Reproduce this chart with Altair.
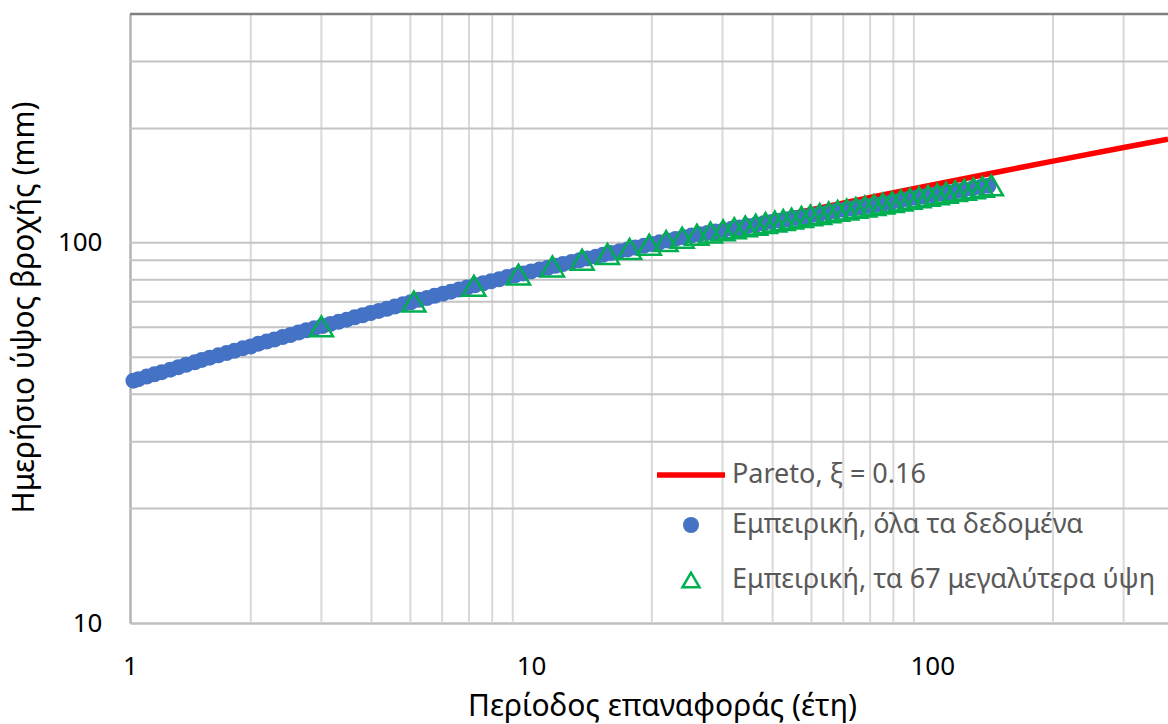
import altair as alt
import pandas as pd

# Fitted Pareto curve: return period (years) -> daily rainfall depth (mm)
pareto_T = [1, 1.5, 2, 3, 5, 7, 10, 15, 20, 30, 50, 70, 100, 150, 200, 300, 387]
pareto_h = [44.0, 50.0, 54.6, 61.3, 70.4, 76.9, 84.1, 92.8, 99.4, 109.1, 122.3,
            131.6, 142.0, 154.6, 164.1, 178.2, 187.5]

# Empirical return periods, complete record
all_T = [1.02, 1.05, 1.10, 1.15, 1.20, 1.26, 1.32, 1.38, 1.45, 1.51,
         1.58, 1.66, 1.74, 1.82, 1.91, 2.00, 2.09, 2.19, 2.29, 2.40,
         2.51, 2.63, 2.75, 2.88, 3.02, 3.16, 3.31, 3.47, 3.63, 3.80,
         3.98, 4.17, 4.37, 4.57, 4.79, 5.01, 5.25, 5.50, 5.75, 6.03,
         6.31, 6.61, 6.92, 7.24, 7.59, 7.94, 8.32, 8.71, 9.12, 9.55,
         10.0, 10.5, 11.0, 11.5, 12.0, 12.6, 13.2, 13.8, 14.5, 15.1,
         15.8, 16.6, 17.4, 18.2, 19.1, 20.0, 20.9, 21.9, 22.9, 24.0,
         25.1, 26.3, 27.5, 28.8, 30.2, 31.6, 33.1, 34.7, 36.3, 38.0,
         39.8, 41.7, 43.7, 45.7, 47.9, 50.1, 52.5, 55.0, 57.5, 60.3,
         63.1, 66.1, 69.2, 72.4, 75.9, 79.4, 83.2, 87.1, 91.2, 95.5,
         100, 105, 110, 115, 120, 126, 132, 138]
all_h = [43.4, 43.8, 44.5, 45.1, 45.7, 46.4, 47.1, 47.8, 48.5, 49.2,
         49.9, 50.6, 51.3, 52.0, 52.8, 53.4, 54.3, 55.0, 55.7, 56.5,
         57.2, 58.1, 58.9, 59.6, 60.4, 61.2, 62.0, 62.8, 63.7, 64.5,
         65.4, 66.2, 67.1, 68.0, 68.9, 69.8, 70.8, 71.6, 72.6, 73.5,
         74.4, 75.4, 76.3, 77.3, 78.3, 79.2, 80.2, 81.3, 82.2, 83.1,
         84.1, 85.1, 86.0, 87.0, 88.0, 89.0, 90.0, 91.0, 92.0, 93.0,
         94.0, 95.1, 96.1, 97.2, 98.2, 99.3, 100.3, 101.4, 102.4, 103.5,
         104.5, 105.4, 106.2, 107.1, 108.0, 108.9, 109.8, 110.7, 111.6, 112.6,
         113.5, 114.4, 115.3, 116.3, 117.2, 118.3, 119.2, 120.2, 121.2, 122.1,
         123.1, 124.1, 125.1, 126.1, 127.1, 128.1, 129.2, 130.4, 131.4, 132.5,
         133.5, 134.7, 135.8, 136.9, 138.0, 139.1, 140.2, 141.3]

# Empirical return periods of the largest depths
top_T = [3.0, 5.1, 7.2, 9.3, 11.3, 13.4, 15.5, 17.6, 19.7, 21.7,
         23.8, 25.9, 28.0, 30.1, 32.1, 34.2, 36.3, 38.4, 40.5, 42.5,
         44.6, 47.2, 49.7, 52.4, 55.2, 58.1, 61.2, 64.5, 67.9, 71.5,
         75.3, 79.4, 83.5, 88.0, 92.7, 97.6, 102.9, 108.3, 114.1, 120.2,
         126.6, 133.3, 140.4]
top_h = [60.3, 70.1, 77.1, 82.5, 86.7, 90.3, 93.5, 96.4, 98.9, 101.1,
         103.2, 105.0, 106.5, 107.9, 109.3, 110.5, 111.6, 112.8, 113.8, 114.8,
         115.8, 117.0, 118.1, 119.1, 120.3, 121.4, 122.4, 123.6, 124.7, 125.8,
         126.9, 128.1, 129.3, 130.6, 131.8, 133.0, 134.2, 135.5, 136.8, 138.0,
         139.2, 140.4, 141.7]

series_names = ["Pareto, ξ = 0.16",
                "Εμπειρική, όλα τα δεδομένα",
                "Εμπειρική, τα 67 μεγαλύτερα ύψη"]
series_colors = ["#ff0000", "#4472c4", "#00b050"]

x_grid = [2, 3, 4, 5, 6, 7, 8, 9, 20, 30, 40, 50, 60, 70, 80, 90, 200, 300]
y_grid = [20, 30, 40, 50, 60, 70, 80, 90, 100, 200, 300]
y_top = [400]
x_ticks = [1, 10, 100]
y_ticks = [10, 100]

FONT = "Noto Sans"
X_DOMAIN = [1, 387]
Y_DOMAIN = [10, 400]


def xenc(field):
    return alt.X(
        f"{field}:Q",
        scale=alt.Scale(type="log", domain=X_DOMAIN, nice=False),
        axis=alt.Axis(
            values=x_ticks, format="d", grid=False, ticks=False, tickSize=0,
            labelFlush=False, labelOverlap=False, labelPadding=30,
            labelFont=FONT, labelFontSize=26, labelColor="#000000",
            domainColor="#bfbfbf", domainWidth=2.5,
            title="Περίοδος επαναφοράς (έτη)", titleFont=FONT,
            titleFontSize=30, titleFontWeight="normal", titleColor="#000000",
            titleX=532, titleY=92, titleAlign="center",
            titleBaseline="alphabetic",
        ),
    )


def yenc(field):
    return alt.Y(
        f"{field}:Q",
        scale=alt.Scale(type="log", domain=Y_DOMAIN, nice=False),
        axis=alt.Axis(
            values=y_ticks, format="d", grid=False, ticks=False, tickSize=0,
            labelFlush=False, labelOverlap=False, labelPadding=28,
            labelFont=FONT, labelFontSize=26, labelColor="#000000",
            domainColor="#b3b3b3", domainWidth=2.5,
            title="Ημερήσιο ύψος βροχής (mm)", titleFont=FONT,
            titleFontSize=30, titleFontWeight="normal", titleColor="#000000",
            titleX=-97, titleY=293, titleAlign="center",
            titleBaseline="alphabetic", titleAngle=270,
        ),
    )


def legend(x, y, **kw):
    return alt.Legend(
        title=None, orient="none", legendX=x, legendY=y, padding=0,
        labelFont=FONT, labelFontSize=27, labelColor="#595959",
        labelLimit=700, symbolOffset=0, symbolOpacity=1, **kw,
    )


def series_color(i, leg):
    return alt.Color(
        "series:N",
        scale=alt.Scale(domain=[series_names[i]], range=[series_colors[i]]),
        legend=leg,
    )


df_pareto = pd.DataFrame({"T": pareto_T, "h": pareto_h, "series": series_names[0]})
df_all = pd.DataFrame({"T": all_T, "h": all_h, "series": series_names[1]})
df_top = pd.DataFrame({"T": top_T, "h": top_h, "series": series_names[2]})

vgrid = alt.Chart(pd.DataFrame({"gx": x_grid})).mark_rule(
    color="#d9d9d9", strokeWidth=2
).encode(x=xenc("gx"))

hgrid = alt.Chart(pd.DataFrame({"gy": y_grid})).mark_rule(
    color="#c4c4c4", strokeWidth=2
).encode(y=yenc("gy"))

top_line = alt.Chart(pd.DataFrame({"gy": y_top})).mark_rule(
    color="#7f7f7f", strokeWidth=2.5
).encode(y=yenc("gy"))

pareto = alt.Chart(df_pareto).mark_line(strokeWidth=5.5, color=series_colors[0]).encode(
    x=xenc("T"), y=yenc("h"),
    color=series_color(0, legend(524, 424, symbolType="stroke", symbolSize=4624,
                                 symbolStrokeWidth=5.5, labelOffset=4)),
)

all_pts = alt.Chart(df_all).mark_circle(size=256, opacity=1).encode(
    x=xenc("T"), y=yenc("h"),
    color=series_color(1, legend(547.5, 497.5, symbolType="circle", symbolSize=256,
                                 labelOffset=27.5)),
)

top_pts = alt.Chart(df_top).mark_point(
    shape="triangle-up", filled=False, size=530, strokeWidth=2.5, opacity=1
).encode(
    x=xenc("T"), y=yenc("h"),
    color=series_color(2, legend(547.5, 552.5, symbolType="triangle-up", symbolSize=289,
                                 symbolStrokeWidth=2.5, labelOffset=27.5)),
)

chart = (
    alt.layer(vgrid, hgrid, top_line, pareto, all_pts, top_pts)
    .resolve_scale(color="independent")
    .resolve_legend(color="independent")
    .properties(
        width=1038, height=609,
        padding={"left": 130, "top": 14, "right": 0, "bottom": 101},
        autosize=alt.AutoSizeParams(type="none"),
        background="white",
    )
    .configure_view(stroke=None)
)

chart.save("out.html", embed_options={"renderer": "svg", "actions": False})
